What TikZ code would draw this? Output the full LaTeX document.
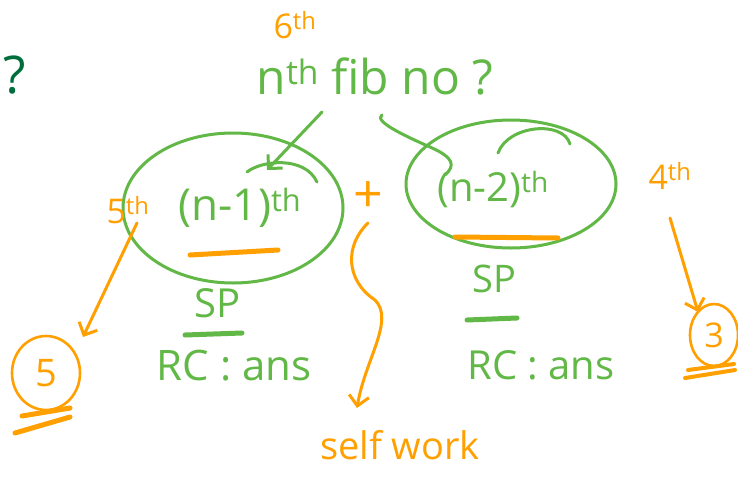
\documentclass[tikz,border=0pt]{standalone}
\usepackage{fontspec}
\setmainfont{Open Sans}
\usetikzlibrary{arrows.meta,shapes.geometric,calc}
\definecolor{pgreen}{RGB}{98,184,70}
\definecolor{porange}{RGB}{255,160,0}
\definecolor{dgreen}{RGB}{0,110,60}
\tikzset{
  gtxt/.style={text=pgreen, inner sep=0pt},
  otxt/.style={text=porange, inner sep=0pt},
  gline/.style={draw=pgreen, line width=3pt, line cap=round, line join=round},
  oline/.style={draw=porange, line width=3pt, line cap=round, line join=round},
  barb/.style={-{Straight Barb[length=10pt,width=20pt,line width=3pt]}},
  gring/.style={draw=pgreen, line width=3pt, ellipse, inner sep=0pt},
  oring/.style={draw=porange, line width=2.6pt, ellipse, inner sep=0pt, text=porange},
}
\newcommand{\fsz}[1]{\fontsize{#1}{#1}\selectfont}
\begin{document}
\begin{tikzpicture}[x=1pt,y=-1pt]
\useasboundingbox[fill=white] (0,0) rectangle (738,482);

% question mark at top left
\node[text=dgreen, inner sep=0pt, font=\fsz{52}] (qm) at (15,75) {?};

% top label
\node[otxt, font=\fsz{34}] (six) at (295,25) {6\textsuperscript{th}};
\node[gtxt, font=\fsz{48}] (nth) at (375,76) {n\textsuperscript{th} fib no ?};

% the two calls
\node[gring, minimum width=220pt, minimum height=150pt] (e1) at (233,208) {};
\node[gring, minimum width=210pt, minimum height=128pt] (e2) at (511,184) {};
\node[gtxt, font=\fsz{44}] (n1) at (240,208) {(n-1)\textsuperscript{th}};
\node[gtxt, font=\fsz{40}] (n2) at (493,190) {(n-2)\textsuperscript{th}};

% arrows from the question to the calls
\draw[gline, barb] ($(nth.center)+(-53,36)$) -- ($(n1.center)+(27,-38)$);
\draw[gline] ($(n1.center)+(7,-36)$) .. controls ($(n1.center)+(22,-48)$) and ($(n1.center)+(65,-52)$) .. ($(n1.center)+(77,-26)$);
\draw[gline] ($(nth.center)+(7,39)$) .. controls ($(nth.center)+(-2,45)$) and ($(nth.center)+(30,60)$) .. ($(nth.center)+(55,71)$)
  .. controls ($(nth.center)+(80,82)$) and ($(nth.center)+(80,90)$) .. ($(nth.center)+(70,99)$);
\draw[gline] ($(n2.center)+(5,-37)$) .. controls ($(n2.center)+(15,-65)$) and ($(n2.center)+(70,-70)$) .. ($(n2.center)+(77,-46)$);

% orange underlines
\draw[oline, line width=5pt] ($(e1.center)+(-43,47)$) -- ($(e1.center)+(45,42)$);
\draw[oline, line width=5pt] ($(e2.center)+(-56,53)$) -- ($(e2.center)+(47,54)$);

% plus and self work
\node[otxt, font=\fsz{52}] (plus) at (368,197) {+};
\node[otxt, font=\fsz{38}] (self) at (400,445) {self work};
\draw[oline, barb] ($(plus.center)+(0,26)$) .. controls ($(plus.center)+(-23,48)$) and ($(plus.center)+(-23,83)$) .. ($(plus.center)+(7,103)$)
  .. controls ($(plus.center)+(27,123)$) and ($(plus.center)+(-3,163)$) .. ($(self.center)+(-43,-37)$);

% 5th side
\node[otxt, font=\fsz{34}] (th5) at (128,210) {5\textsuperscript{th}};
\node[oring, minimum width=68pt, minimum height=74pt, font=\fsz{38}] (c5) at (46,373) {5};
\draw[oline, barb] ($(th5.center)+(9,13)$) -- ($(c5.center)+(37,-36)$);
\draw[oline, line width=5pt] ($(c5.center)+(-24,43)$) -- ($(c5.center)+(24,35)$);
\draw[oline, line width=5pt] ($(c5.center)+(-31,60)$) -- ($(c5.center)+(24,44)$);

% 4th side
\node[otxt, font=\fsz{34}] (th4) at (670,176) {4\textsuperscript{th}};
\node[oring, minimum width=48pt, minimum height=62pt, font=\fsz{34}] (c3) at (714,335) {3};
\draw[oline, barb] ($(th4.center)+(0,42)$) -- ($(c3.center)+(-16,-23)$);
\draw[oline, line width=4pt] ($(c3.center)+(-29,43)$) -- ($(c3.center)+(21,35)$);
\draw[oline, line width=4pt] ($(c3.center)+(-26,35)$) -- ($(c3.center)+(20,29)$);

% results
\node[gtxt, font=\fsz{40}] (sp1) at (218,303) {SP};
\draw[gline, line width=5pt] ($(sp1.center)+(-33,32)$) -- ($(sp1.center)+(24,30)$);
\node[gtxt, font=\fsz{42}] (rc1) at (234,366) {RC : ans};
\node[gtxt, font=\fsz{38}] (sp2) at (494,279) {SP};
\draw[gline, line width=5pt] ($(sp2.center)+(-27,41)$) -- ($(sp2.center)+(23,39)$);
\node[gtxt, font=\fsz{40}] (rc2) at (541,365) {RC : ans};
\end{tikzpicture}
\end{document}
